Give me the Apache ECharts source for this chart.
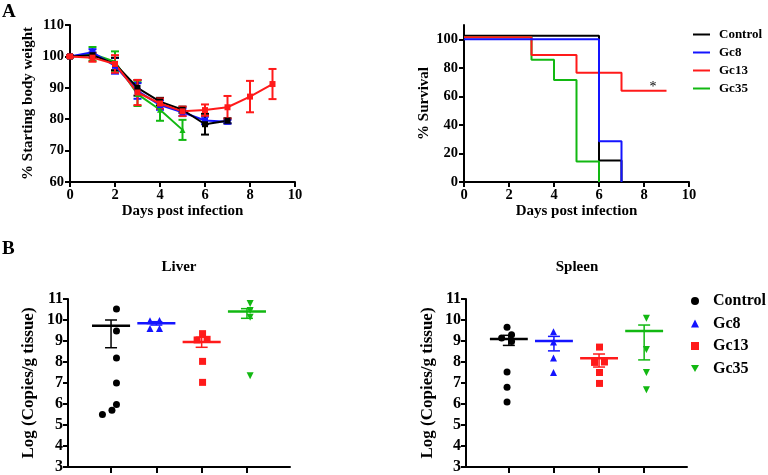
<!DOCTYPE html>
<html>
<head>
<meta charset="utf-8">
<script src="https://cdn.jsdelivr.net/npm/echarts@6/dist/echarts.min.js"></script>
<style>
  html, body { margin: 0; padding: 0; background: #fff; }
  #chart { width: 768px; height: 475px; }
</style>
</head>
<body>
<div id="chart"></div>
<script>
// groups
const groups = ['Control', 'Gc8', 'Gc13', 'Gc35'];
const colors = ['#000000', '#1414ff', '#ff1a1a', '#12b812'];

// A left: % starting body weight (mean, SEM)
const weightDays = [0, 1, 2, 3, 4, 5, 6, 7, 8, 9];
const weightControl = [100, 100.4, 97.6, 90, 85.6, 83, 78.4, 79.5];
const weightControlErr = [0.3, 0.8, 2, 2.5, 1.2, 1, 3.3, 0.8];
const weightGc8 = [100, 101.3, 97, 89, 84.5, 82.2, 79.6, 79.2];
const weightGc8Err = [0.3, 1, 2.5, 2.5, 1.5, 1.2, 1.2, 0.6];
const weightGc13 = [100, 99.6, 97.6, 88.5, 85, 82.5, 82.9, 83.8, 87.2, 91.2];
const weightGc13Err = [0.3, 1.3, 2.8, 4, 1.6, 1.5, 1.8, 3.6, 5, 4.8];
const weightGc35 = [100, 100.8, 98.3, 88, 83, 76.6];
const weightGc35Err = [0.3, 2.2, 3.3, 3.8, 3.5, 3.2];

// A right: % survival (Kaplan-Meier steps, as drawn)
const survControlDays = [0, 6, 7];
const survControlPct = [102.5, 15, 0];
const survGc8Days = [0, 6, 7];
const survGc8Pct = [100, 28.6, 0];
const survGc13Days = [0, 3, 5, 7, 9];
const survGc13Pct = [101.5, 89, 76.5, 64, 64];
const survGc35Days = [0, 3, 4, 5, 6];
const survGc35Pct = [101.5, 85.7, 71.4, 14.3, 0];

// B: log copies / g tissue, points (x = jittered group position)
const liverControlX = [1.12, 1.12, 1.12, 1.12, 1.12, 1.02, 0.81];
const liverControlY = [10.52, 9.48, 8.19, 7.0, 5.98, 5.7, 5.5];
const liverGc8X = [1.86, 2.07, 1.86, 2.07];
const liverGc8Y = [9.97, 9.98, 9.6, 9.6];
const liverGc13X = [3.02, 2.9, 3.12, 3.02, 3.02];
const liverGc13Y = [9.35, 9.05, 9.08, 8.03, 7.03];
const liverGc35X = [4.07, 4.07, 4.07, 4.07];
const liverGc35Y = [10.79, 10.45, 10.13, 7.35];
const liverMean = [9.73, 9.84, 8.95, 10.4];
const liverLow = [8.68, 9.76, 8.7, 10.08];
const liverHigh = [10.0, 9.92, 9.18, 10.54];

const spleenControlX = [0.96, 0.84, 1.06, 1.06, 0.96, 0.96, 0.96];
const spleenControlY = [9.65, 9.14, 9.3, 8.98, 7.52, 6.8, 6.09];
const spleenGc8X = [1.99, 1.99, 1.99, 1.99];
const spleenGc8Y = [9.44, 8.95, 8.19, 7.5];
const spleenGc13X = [3.01, 2.9, 3.12, 3.01, 3.01];
const spleenGc13Y = [8.71, 7.98, 8.0, 7.5, 6.98];
const spleenGc35X = [4.05, 4.05, 4.05, 4.05];
const spleenGc35Y = [10.08, 8.6, 7.5, 6.68];
const spleenMean = [9.1, 9.0, 8.18, 9.48];
const spleenLow = [8.79, 8.53, 7.76, 8.1];
const spleenHigh = [9.27, 9.22, 8.38, 9.76];

const groupPos = [1, 2, 3, 4];
const survivalTicks = [0, 20, 40, 60, 80, 100];

const FONT = 'Liberation Serif';
const zip = (a, b) => a.map((v, i) => [v, b[i]]);

const chart = echarts.init(document.getElementById('chart'), null, { renderer: 'canvas' });

const axisLine = { show: true, lineStyle: { color: '#000', width: 2 } };
const axisTick = { show: true, inside: false, length: 5, lineStyle: { color: '#000', width: 2 } };
const labelA = { color: '#000', fontFamily: FONT, fontWeight: 'bold', fontSize: 14.5, margin: 6 };
const labelB = { color: '#000', fontFamily: FONT, fontWeight: 'bold', fontSize: 16, margin: 5 };
const nameA = { color: '#000', fontFamily: FONT, fontWeight: 'bold', fontSize: 15 };
const nameB = { color: '#000', fontFamily: FONT, fontWeight: 'bold', fontSize: 17 };

// error bars for the weight panel
function weightErrSeries(vals, errs, color) {
  return {
    type: 'custom',
    xAxisIndex: 0, yAxisIndex: 0,
    z: 3,
    data: vals.map((v, i) => [weightDays[i], v - errs[i], v + errs[i]]),
    renderItem: (params, api) => {
      const lo = api.coord([api.value(0), api.value(1)]);
      const hi = api.coord([api.value(0), api.value(2)]);
      const w = 4;
      const st = { stroke: color, lineWidth: 2 };
      return {
        type: 'group',
        children: [
          { type: 'line', shape: { x1: lo[0], y1: lo[1], x2: hi[0], y2: hi[1] }, style: st },
          { type: 'line', shape: { x1: lo[0] - w, y1: lo[1], x2: lo[0] + w, y2: lo[1] }, style: st },
          { type: 'line', shape: { x1: hi[0] - w, y1: hi[1], x2: hi[0] + w, y2: hi[1] }, style: st }
        ]
      };
    }
  };
}

function weightLine(name, vals, color, symbol) {
  return {
    name: name, type: 'line', xAxisIndex: 0, yAxisIndex: 0, z: 4,
    data: zip(weightDays.slice(0, vals.length), vals),
    symbol: symbol, symbolSize: 6,
    itemStyle: { color: color },
    lineStyle: { color: color, width: 2 }
  };
}

function survLine(name, days, pct, color, extra) {
  return Object.assign({
    name: name, type: 'line', xAxisIndex: 1, yAxisIndex: 1,
    data: zip(days, pct), step: 'end', symbol: 'none',
    itemStyle: { color: color },
    lineStyle: { color: color, width: 2 }
  }, extra || {});
}

// mean + SEM bars for panel B
function meanSemSeries(axisIdx, mean, low, high) {
  return {
    type: 'custom', xAxisIndex: axisIdx, yAxisIndex: axisIdx, z: 5,
    data: mean.map((m, i) => [groupPos[i], m, low[i], high[i], i]),
    renderItem: (params, api) => {
      const x = api.value(0);
      const color = colors[api.value(4)];
      const mL = api.coord([x - 0.42, api.value(1)]);
      const mR = api.coord([x + 0.42, api.value(1)]);
      const lo = api.coord([x, api.value(2)]);
      const hi = api.coord([x, api.value(3)]);
      const w = 6;
      const st = { stroke: color, lineWidth: 1.5 };
      return {
        type: 'group',
        children: [
          { type: 'line', shape: { x1: mL[0], y1: mL[1], x2: mR[0], y2: mR[1] }, style: { stroke: color, lineWidth: 2.5 } },
          { type: 'line', shape: { x1: lo[0], y1: lo[1], x2: hi[0], y2: hi[1] }, style: st },
          { type: 'line', shape: { x1: lo[0] - w, y1: lo[1], x2: lo[0] + w, y2: lo[1] }, style: st },
          { type: 'line', shape: { x1: hi[0] - w, y1: hi[1], x2: hi[0] + w, y2: hi[1] }, style: st }
        ]
      };
    }
  };
}

const downTri = 'path://M0,0L10,0L5,9Z';
const pointSymbols = ['circle', 'triangle', 'rect', downTri];

function scatterSeries(axisIdx, gi, xs, ys) {
  return {
    name: groups[gi], type: 'scatter', xAxisIndex: axisIdx, yAxisIndex: axisIdx, z: 4,
    data: zip(xs, ys), symbol: pointSymbols[gi], symbolSize: 7,
    itemStyle: { color: colors[gi], opacity: 1 }
  };
}

const valueXAxisB = (gi) => ({
  type: 'value', gridIndex: gi, min: 0.05, max: 4.95,
  axisLine: axisLine,
  axisTick: Object.assign({}, axisTick, { length: 6, customValues: groupPos }),
  axisLabel: { show: false },
  splitLine: { show: false }
});

const valueYAxisB = (gi, gap) => ({
  type: 'value', gridIndex: gi, min: 3, max: 11, interval: 1,
  name: 'Log (Copies/g tissue)', nameLocation: 'middle', nameGap: gap,
  nameTextStyle: nameB,
  axisLine: axisLine, axisTick: axisTick, axisLabel: labelB,
  splitLine: { show: false }
});

const titleFont = (size) => ({ fontFamily: FONT, fontWeight: 'bold', fontSize: size, color: '#000' });

const option = {
  animation: false,
  backgroundColor: '#fff',
  title: [
    { text: 'A', left: 2, top: 3, padding: 0, textStyle: titleFont(19) },
    { text: 'B', left: 2, top: 240, padding: 0, textStyle: titleFont(19) },
    { text: 'Liver', left: 179, top: 260, padding: 0, textAlign: 'center', textStyle: titleFont(15) },
    { text: 'Spleen', left: 577, top: 260, padding: 0, textAlign: 'center', textStyle: titleFont(15) }
  ],
  legend: [
    {
      left: 693, top: 28, orient: 'vertical', selectedMode: false, padding: 0,
      itemWidth: 17, itemHeight: 2, itemGap: 5,
      textStyle: { fontFamily: FONT, fontWeight: 'bold', fontSize: 13, color: '#000', padding: [0, 0, 0, 4] },
      data: groups.map(g => ({ name: g, icon: 'rect' }))
    },
    {
      left: 691, top: 293, orient: 'vertical', selectedMode: false, padding: 0,
      itemWidth: 8, itemHeight: 8, itemGap: 6.5,
      textStyle: { fontFamily: FONT, fontWeight: 'bold', fontSize: 16, color: '#000', padding: [0, 0, 0, 9] },
      data: groups.map((g, i) => ({ name: g, icon: pointSymbols[i] }))
    }
  ],
  grid: [
    { left: 70, top: 25, width: 225, height: 157 },
    { left: 464, top: 25, width: 225, height: 157 },
    { left: 68, top: 299, width: 222, height: 168 },
    { left: 466, top: 299, width: 221, height: 168 }
  ],
  xAxis: [
    {
      type: 'value', gridIndex: 0, min: 0, max: 10, interval: 2,
      name: 'Days post infection', nameLocation: 'middle', nameGap: 21, nameTextStyle: nameA,
      axisLine: axisLine, axisTick: axisTick, axisLabel: labelA, splitLine: { show: false }
    },
    {
      type: 'value', gridIndex: 1, min: 0, max: 10, interval: 2,
      name: 'Days post infection', nameLocation: 'middle', nameGap: 21, nameTextStyle: nameA,
      axisLine: axisLine, axisTick: axisTick, axisLabel: labelA, splitLine: { show: false }
    },
    valueXAxisB(2),
    valueXAxisB(3)
  ],
  yAxis: [
    {
      type: 'value', gridIndex: 0, min: 60, max: 110, interval: 10,
      name: '% Starting body weight', nameLocation: 'middle', nameGap: 34, nameTextStyle: nameA,
      axisLine: axisLine, axisTick: axisTick, axisLabel: labelA, splitLine: { show: false }
    },
    {
      type: 'value', gridIndex: 1, min: 0, max: 110,
      name: '% Survival', nameLocation: 'middle', nameGap: 32, nameTextStyle: nameA,
      axisLine: axisLine,
      axisTick: Object.assign({}, axisTick, { customValues: survivalTicks }),
      axisLabel: Object.assign({}, labelA, { customValues: survivalTicks }),
      splitLine: { show: false }
    },
    valueYAxisB(2, 31),
    valueYAxisB(3, 30)
  ],
  series: [
    weightErrSeries(weightGc35, weightGc35Err, colors[3]),
    weightErrSeries(weightGc8, weightGc8Err, colors[1]),
    weightErrSeries(weightControl, weightControlErr, colors[0]),
    weightErrSeries(weightGc13, weightGc13Err, colors[2]),
    weightLine('Gc35', weightGc35, colors[3], 'triangle'),
    weightLine('Gc8', weightGc8, colors[1], 'rect'),
    weightLine('Control', weightControl, colors[0], 'rect'),
    weightLine('Gc13', weightGc13, colors[2], 'rect'),

    survLine('Control', survControlDays, survControlPct, colors[0]),
    survLine('Gc35', survGc35Days, survGc35Pct, colors[3]),
    survLine('Gc13', survGc13Days, survGc13Pct, colors[2], {
      markPoint: {
        symbol: 'circle', symbolSize: 0,
        data: [{ coord: [8.4, 66.5] }],
        label: { show: true, position: 'inside', formatter: '*', color: '#000', fontFamily: FONT, fontSize: 14 }
      }
    }),
    survLine('Gc8', survGc8Days, survGc8Pct, colors[1]),

    scatterSeries(2, 0, liverControlX, liverControlY),
    scatterSeries(2, 1, liverGc8X, liverGc8Y),
    scatterSeries(2, 2, liverGc13X, liverGc13Y),
    scatterSeries(2, 3, liverGc35X, liverGc35Y),
    meanSemSeries(2, liverMean, liverLow, liverHigh),

    scatterSeries(3, 0, spleenControlX, spleenControlY),
    scatterSeries(3, 1, spleenGc8X, spleenGc8Y),
    scatterSeries(3, 2, spleenGc13X, spleenGc13Y),
    scatterSeries(3, 3, spleenGc35X, spleenGc35Y),
    meanSemSeries(3, spleenMean, spleenLow, spleenHigh)
  ]
};

chart.setOption(option);
</script>
</body>
</html>
